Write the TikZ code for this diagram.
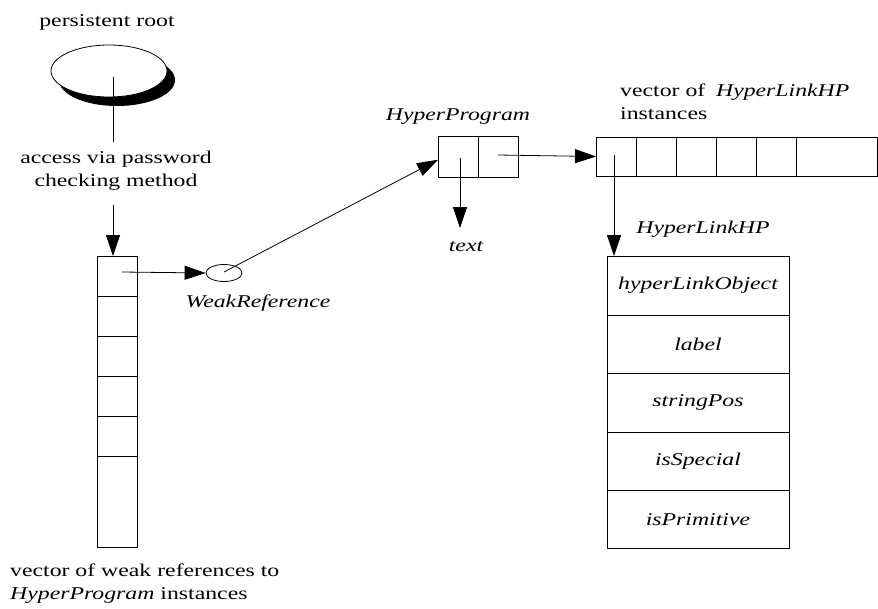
\documentclass[tikz,border=0pt]{standalone}
\usepackage{fontspec}
\setmainfont{Liberation Serif}[FakeStretch=1.32]
\usetikzlibrary{arrows.meta,shapes.geometric,calc}
\begin{document}
\begin{tikzpicture}[x=1pt,y=-1pt,
  cell/.style={draw, line width=0.8pt, minimum width=40pt, minimum height=40pt, inner sep=0pt, anchor=north west, outer sep=0pt},
  lbl/.style={font=\fontsize{18}{23}\selectfont, inner sep=0pt},
  ilbl/.style={lbl, font=\fontsize{18}{23}\selectfont\itshape},
  conn/.style={line width=0.8pt},
  arr/.style={line width=0.8pt, -{Triangle[length=21pt,width=14pt]}}]
\useasboundingbox (0,0) rectangle (878,608);

% persistent root
\node[lbl] (prt) at (107,22) {persistent root};
\fill[black] (117,80) ellipse [x radius=58, y radius=26];
\node[ellipse, draw, fill=white, line width=0.8pt, minimum width=116pt, minimum height=52pt, inner sep=0pt] (root) at (109,71) {};
\coordinate (rootc) at (113,77);
\coordinate (rootend) at (113,142);
\draw[conn] (rootc) -- (rootend);
\node[lbl, align=center] (acc) at (116,171) {access via password\\checking method};

% left vector
\node[cell] (c1) at (97,256) {};
\node[cell] (c2) at (97,296) {};
\node[cell] (c3) at (97,336) {};
\node[cell] (c4) at (97,376) {};
\node[cell] (c5) at (97,416) {};
\node[cell, minimum height=91pt] (c6) at (97,456) {};
\coordinate (accstart) at (113,205);
\coordinate (c1top) at (113,256);
\draw[arr] (accstart) -- (c1top);
\node[lbl, align=left, anchor=west] (vwr) at (10,584) {vector of weak references to\\\textit{HyperProgram} instances};

% weak reference
\node[ellipse, draw, line width=0.8pt, minimum width=36pt, minimum height=17pt, inner sep=0pt] (wr) at (224,273) {};
\node[ilbl] (wrl) at (258,303) {WeakReference};
\coordinate (c1p) at (122,272);
\draw[arr] (c1p) -- (wr.west);

% HyperProgram
\node[cell, minimum height=41pt] (h1) at (438,136) {};
\node[cell, minimum height=41pt] (h2) at (478,136) {};
\node[ilbl] (hpl) at (458,117) {HyperProgram};
\coordinate (wrc) at (224,272);
\draw[arr] (wrc) -- ($(h1.north west)!0.58!(h1.south west)$);
\coordinate (h1p) at (460,158);
\node[ilbl] (txt) at (466,247) {text};
\coordinate (txttop) at (460,228);
\draw[arr] (h1p) -- (txttop);

% vector of HyperLinkHP
\node[cell, minimum height=39pt] (v1) at (596,137) {};
\node[cell, minimum height=39pt] (v2) at (636,137) {};
\node[cell, minimum height=39pt] (v3) at (676,137) {};
\node[cell, minimum height=39pt] (v4) at (716,137) {};
\node[cell, minimum height=39pt] (v5) at (756,137) {};
\node[cell, minimum height=39pt, minimum width=81pt] (v6) at (796,137) {};
\node[lbl, align=left, anchor=west] (vhl) at (620,102) {vector of\hspace{0.6em}\textit{HyperLinkHP}\\instances};
\coordinate (h2p) at (498,155);
\draw[arr] (h2p) -- (v1.west);

% HyperLinkHP object
\node[ilbl] (hll) at (703,229) {HyperLinkHP};
\node[cell, minimum width=182pt, minimum height=59pt] (r1) at (607,256) {};
\node[cell, minimum width=182pt, minimum height=58.5pt] (r2) at (607,315) {};
\node[cell, minimum width=182pt, minimum height=58.5pt] (r3) at (607,373.5) {};
\node[cell, minimum width=182pt, minimum height=58.5pt] (r4) at (607,432) {};
\node[cell, minimum width=182pt, minimum height=58pt] (r5) at (607,490.5) {};
\node[ilbl] at (r1.center) {hyperLinkObject};
\node[ilbl] at (r2.center) {label};
\node[ilbl] at (r3.center) {stringPos};
\node[ilbl] at (r4.center) {isSpecial};
\node[ilbl] at (r5.center) {isPrimitive};
\coordinate (v1p) at (614,155);
\coordinate (r1top) at (614,256);
\draw[arr] (v1p) -- (r1top);
\end{tikzpicture}
\end{document}
